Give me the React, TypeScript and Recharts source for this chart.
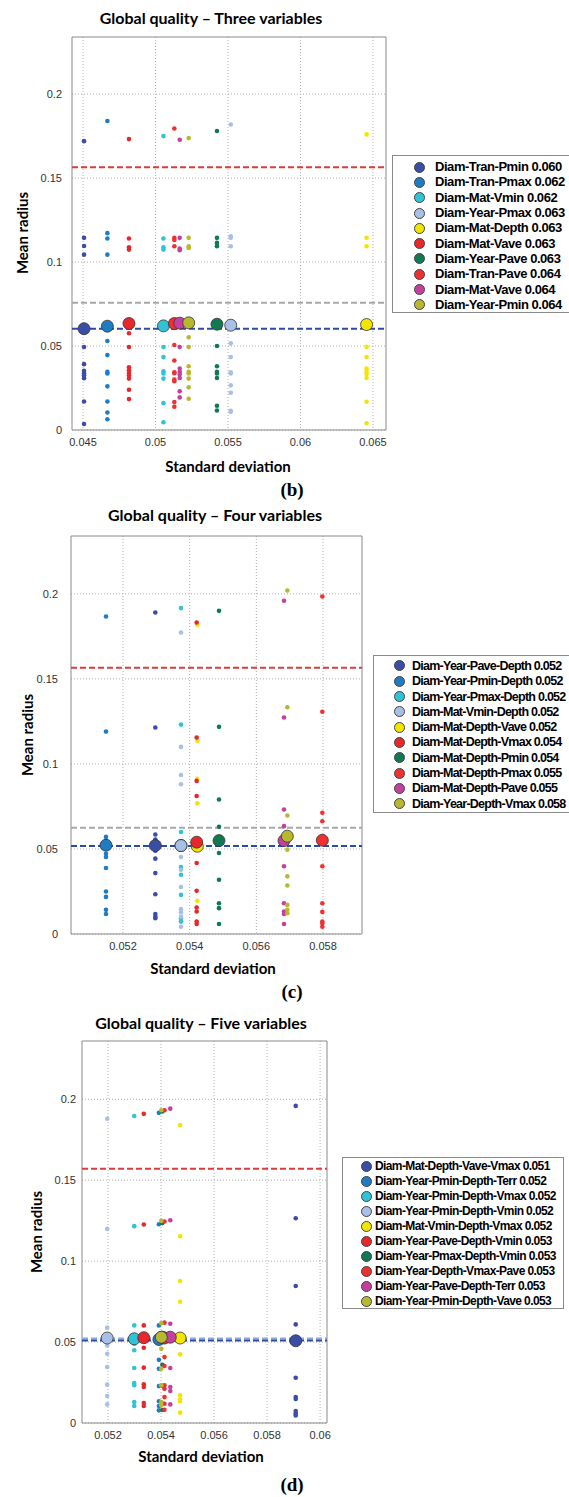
import React from "react";
import { ScatterChart, Scatter, XAxis, YAxis, CartesianGrid, ReferenceLine, ReferenceArea } from "recharts";

const palette = ["#3b4ea6", "#1f7cc4", "#2ec4d6", "#a8bfe6", "#f2e600", "#e8262b", "#0f7a52", "#ef3030", "#c4409f", "#b8b830"];
const yTicks = [0, 0.05, 0.1, 0.15, 0.2];

// Panel (b)
const bNames = ["Diam-Tran-Pmin 0.060", "Diam-Tran-Pmax 0.062", "Diam-Mat-Vmin 0.062", "Diam-Year-Pmax 0.063", "Diam-Mat-Depth 0.063", "Diam-Mat-Vave 0.063", "Diam-Year-Pave 0.063", "Diam-Tran-Pave 0.064", "Diam-Mat-Vave 0.064", "Diam-Year-Pmin 0.064"];
const bX = [0.04507, 0.04668, 0.05055, 0.05519, 0.06456, 0.04817, 0.05424, 0.0513, 0.05167, 0.05229];
const bMeans = [0.0603, 0.0618, 0.062, 0.0624, 0.0628, 0.0634, 0.063, 0.0634, 0.0636, 0.0638];
const bPoints = [
  [0.172, 0.1144, 0.1096, 0.1044, 0.0494, 0.0392, 0.0352, 0.0338, 0.0324, 0.0308, 0.017, 0.0036],
  [0.184, 0.1172, 0.114, 0.1044, 0.053, 0.0446, 0.0346, 0.0336, 0.026, 0.017, 0.0104, 0.0064],
  [0.175, 0.114, 0.1088, 0.1074, 0.0494, 0.0434, 0.035, 0.0336, 0.0306, 0.016, 0.0046],
  [0.1819, 0.1154, 0.1144, 0.1094, 0.0516, 0.0434, 0.0344, 0.0336, 0.0266, 0.0222, 0.0114, 0.0108],
  [0.176, 0.1144, 0.1094, 0.0494, 0.0434, 0.0366, 0.0348, 0.0334, 0.031, 0.0168, 0.004],
  [0.1732, 0.114, 0.1088, 0.1074, 0.0576, 0.0494, 0.0374, 0.0356, 0.034, 0.0324, 0.0306, 0.024, 0.0184],
  [0.178, 0.1144, 0.1114, 0.1094, 0.05, 0.038, 0.0346, 0.0336, 0.031, 0.0144, 0.0116],
  [0.1795, 0.1144, 0.1132, 0.1094, 0.0506, 0.0414, 0.0344, 0.0338, 0.03, 0.029, 0.0166, 0.0138],
  [0.1728, 0.1144, 0.108, 0.107, 0.0494, 0.0366, 0.0346, 0.033, 0.031, 0.023, 0.0194],
  [0.1738, 0.1144, 0.1094, 0.1084, 0.0552, 0.0494, 0.038, 0.0346, 0.0336, 0.0306, 0.0254, 0.0186],
];
const bXTicks = [0.045, 0.05, 0.055, 0.06, 0.065];
const bRefs = [0.1565, 0.0758, 0.0603];

// Panel (c)
const cNames = ["Diam-Year-Pave-Depth 0.052", "Diam-Year-Pmin-Depth 0.052", "Diam-Year-Pmax-Depth 0.052", "Diam-Mat-Vmin-Depth 0.052", "Diam-Mat-Depth-Vave 0.052", "Diam-Mat-Depth-Vmax 0.054", "Diam-Mat-Depth-Pmin 0.054", "Diam-Mat-Depth-Pmax 0.055", "Diam-Mat-Depth-Pave 0.055", "Diam-Year-Depth-Vmax 0.058"];
const cX = [0.05297, 0.05149, 0.05374, 0.05374, 0.05423, 0.05421, 0.05488, 0.05798, 0.05683, 0.05693];
const cMeans = [0.052, 0.0522, 0.052, 0.052, 0.0516, 0.054, 0.0549, 0.0551, 0.0549, 0.0575];
const cPoints = [
  [0.189, 0.1214, 0.0585, 0.0555, 0.049, 0.0443, 0.0358, 0.0234, 0.0118, 0.0102, 0.0093],
  [0.1867, 0.119, 0.0571, 0.0545, 0.0472, 0.0453, 0.0388, 0.025, 0.0218, 0.0142, 0.0118],
  [0.1916, 0.1231, 0.06, 0.0506, 0.0394, 0.0348, 0.023, 0.0093, 0.0073],
  [0.1773, 0.11, 0.0935, 0.088, 0.0453, 0.0378, 0.0276, 0.0146, 0.0128, 0.0102, 0.0043],
  [0.1818, 0.1136, 0.0913, 0.0768, 0.0505, 0.0195],
  [0.1831, 0.1155, 0.09, 0.0811, 0.0496, 0.0417, 0.0254, 0.0156, 0.0132, 0.0073, 0.0059],
  [0.19, 0.1218, 0.0791, 0.063, 0.0476, 0.0319, 0.0181, 0.0152, 0.0059],
  [0.1984, 0.1307, 0.0713, 0.0663, 0.0398, 0.0181, 0.013, 0.0073, 0.0063, 0.0043],
  [0.1959, 0.1273, 0.0732, 0.0634, 0.0398, 0.0181, 0.0132, 0.0118, 0.0059],
  [0.202, 0.1333, 0.0697, 0.0496, 0.0339, 0.0285, 0.0171, 0.0142, 0.0122],
];
const cXTicks = [0.052, 0.054, 0.056, 0.058];
const cRefs = [0.1565, 0.0624, 0.0518];

// Panel (d)
const dNames = ["Diam-Mat-Depth-Vave-Vmax 0.051", "Diam-Year-Pmin-Depth-Terr 0.052", "Diam-Year-Pmin-Depth-Vmax 0.052", "Diam-Year-Pmin-Depth-Vmin 0.052", "Diam-Mat-Vmin-Depth-Vmax 0.052", "Diam-Year-Pave-Depth-Vmin 0.053", "Diam-Year-Pmax-Depth-Vmin 0.053", "Diam-Year-Depth-Vmax-Pave 0.053", "Diam-Year-Pave-Depth-Terr 0.053", "Diam-Year-Pmin-Depth-Vave 0.053"];
const dX = [0.05908, 0.05392, 0.05299, 0.05197, 0.05472, 0.05335, 0.05405, 0.05413, 0.05435, 0.05401];
const dMeans = [0.0508, 0.0516, 0.052, 0.0525, 0.0525, 0.0527, 0.053, 0.0525, 0.053, 0.053];
const dPoints = [
  [0.1959, 0.1265, 0.0846, 0.0609, 0.028, 0.016, 0.0148, 0.0074, 0.0058, 0.0047],
  [0.1916, 0.1228, 0.0603, 0.039, 0.0335, 0.0228, 0.0134, 0.0105, 0.0078],
  [0.1897, 0.1216, 0.0603, 0.049, 0.0449, 0.034, 0.0247, 0.0233, 0.013, 0.0105],
  [0.188, 0.1199, 0.0589, 0.0479, 0.0428, 0.0346, 0.0237, 0.0167, 0.0115],
  [0.184, 0.1154, 0.0877, 0.0749, 0.0424, 0.0171, 0.0146, 0.0134, 0.0064],
  [0.191, 0.1226, 0.0603, 0.0465, 0.0342, 0.0239, 0.0222, 0.0123, 0.0105],
  [0.1925, 0.1235, 0.036, 0.023, 0.012, 0.008],
  [0.1932, 0.1245, 0.062, 0.05, 0.0407, 0.0352, 0.0233, 0.0212, 0.016, 0.0119, 0.0082],
  [0.1942, 0.1253, 0.0613, 0.034, 0.0222, 0.0198, 0.0115],
  [0.1932, 0.1249, 0.0617, 0.0459, 0.0335, 0.0233, 0.013, 0.0109],
];
const dXTicks = [0.052, 0.054, 0.056, 0.058, 0.06];
const dRefs = [0.157, 0.0522, 0.051];

const refColors = ["#e03a3a", "#a8a8a8", "#2c4aa8"];
const dRefColors = ["#e03a3a", "#8fa6d8", "#2c4aa8"];

const titleFont = "Lato, 'Open Sans', sans-serif";
const tickFont = "'Liberation Sans', Arial, sans-serif";
const legendFont = "'Liberation Sans', Arial, sans-serif";

type PanelProps = {
  top: number;
  width: number;
  height: number;
  margin: { top: number; right: number; bottom: number; left: number };
  xDomain: [number, number];
  yDomain: [number, number];
  xTicks: number[];
  xPoints: number[];
  means: number[];
  points: number[][];
  refs: number[];
  refCols: string[];
  yTickMargin: number;
};

function Panel(p: PanelProps) {
  const small = (color: string) => (props: any) => (
    <circle cx={props.cx} cy={props.cy} r={2.3} fill={color} />
  );
  const big = (color: string) => (props: any) => (
    <circle cx={props.cx} cy={props.cy} r={6} fill={color} stroke="#333" strokeWidth={0.8} />
  );
  return (
    <div style={{ position: "absolute", left: 0, top: p.top }}>
      <ScatterChart width={p.width} height={p.height} margin={p.margin}>
        <CartesianGrid stroke="#b0b0b0" strokeDasharray="1 2" horizontalValues={yTicks} verticalValues={p.xTicks} />
        <XAxis
          type="number"
          dataKey="x"
          domain={p.xDomain}
          ticks={p.xTicks}
          allowDataOverflow
          height={20}
          axisLine={false}
          tickLine={false}
          tick={{ fontSize: 11, fill: "#333", fontFamily: tickFont }}
          tickFormatter={(v: number) => String(+v.toFixed(4))}
        />
        <YAxis
          type="number"
          dataKey="y"
          domain={p.yDomain}
          ticks={yTicks}
          allowDataOverflow
          width={40}
          axisLine={false}
          tickLine={false}
          tickMargin={p.yTickMargin}
          tick={{ fontSize: 11, fill: "#333", fontFamily: tickFont }}
          tickFormatter={(v: number) => String(+v.toFixed(3))}
        />
        <ReferenceArea x1={p.xDomain[0]} x2={p.xDomain[1]} y1={p.yDomain[0]} y2={p.yDomain[1]} fill="none" stroke="#8a8a8a" strokeWidth={1} fillOpacity={0} />
        {p.points.map((pts, i) => (
          <Scatter
            key={"s" + i}
            data={pts.map((y) => ({ x: p.xPoints[i], y }))}
            fill={palette[i]}
            shape={small(palette[i])}
            isAnimationActive={false}
          />
        ))}
        {p.refs.map((r, i) => (
          <ReferenceLine key={"r" + i} y={r} stroke={p.refCols[i]} strokeWidth={2} strokeDasharray="6 3" />
        ))}
        {p.means.map((m, i) => (
          <Scatter
            key={"m" + i}
            data={[{ x: p.xPoints[i], y: m }]}
            fill={palette[i]}
            shape={big(palette[i])}
            isAnimationActive={false}
          />
        ))}
      </ScatterChart>
    </div>
  );
}

function Legend({ names, left, top, width, height, padTop, markerLeft, gap, fontSize, spacing, rowH }: any) {
  return (
    <div
      style={{
        position: "absolute",
        left,
        top,
        width,
        height,
        border: "1px solid #8a8a8a",
        background: "#fff",
        boxSizing: "border-box",
        paddingTop: padTop,
        overflow: "hidden",
      }}
    >
      {names.map((n: string, i: number) => (
        <div key={i} style={{ display: "flex", alignItems: "center", height: rowH, paddingLeft: markerLeft }}>
          <div
            style={{
              width: 9,
              height: 9,
              borderRadius: "50%",
              background: palette[i],
              border: "0.8px solid #444",
              flex: "none",
            }}
          />
          <span
            style={{
              marginLeft: gap,
              fontFamily: legendFont,
              fontWeight: "bold",
              fontSize,
              letterSpacing: spacing,
              color: "#000",
              whiteSpace: "nowrap",
              lineHeight: "14px",
            }}
          >
            {n}
          </span>
        </div>
      ))}
    </div>
  );
}

function Text({ x, y, children, size, bold, family, rotate }: any) {
  return (
    <div
      style={{
        position: "absolute",
        left: x,
        top: y,
        transform: `translate(-50%, -50%)${rotate ? " rotate(-90deg)" : ""}`,
        fontFamily: family,
        fontWeight: bold ? "bold" : "normal",
        fontSize: size,
        whiteSpace: "nowrap",
        color: "#000",
      }}
    >
      {children}
    </div>
  );
}

export default function App() {
  return (
    <div style={{ position: "absolute", left: 0, top: 0, width: 569, height: 1497, background: "#fff", overflow: "hidden" }}>
      {/* Panel b */}
      <Panel
        top={0}
        width={400}
        height={460}
        margin={{ top: 37, right: 14, bottom: 10, left: 32 }}
        xDomain={[0.04424, 0.0659]}
        yDomain={[0, 0.234]}
        xTicks={bXTicks}
        xPoints={bX}
        means={bMeans}
        points={bPoints}
        refs={bRefs}
        refCols={refColors}
        yTickMargin={4}
      />
      <Text x={211} y={17} size={16} bold family={titleFont}>Global quality – Three variables</Text>
      <Text x={22} y={233} size={15} bold family={titleFont} rotate>Mean radius</Text>
      <Text x={228} y={466} size={15} bold family={titleFont}>Standard deviation</Text>
      <Text x={292} y={490} size={19} bold family="'Liberation Serif', serif">(b)</Text>
      <Legend names={bNames} left={392} top={155} width={178} height={158} padTop={3.5} markerLeft={21} gap={10} fontSize={13} spacing={-0.45} rowH={15.3} />

      {/* Panel c */}
      <Panel
        top={500}
        width={400}
        height={460}
        margin={{ top: 36, right: 38, bottom: 6, left: 31 }}
        xDomain={[0.05044, 0.05917]}
        yDomain={[0, 0.234]}
        xTicks={cXTicks}
        xPoints={cX}
        means={cMeans}
        points={cPoints}
        refs={cRefs}
        refCols={refColors}
        yTickMargin={7}
      />
      <Text x={215} y={514} size={16} bold family={titleFont}>Global quality – Four variables</Text>
      <Text x={27} y={735} size={15} bold family={titleFont} rotate>Mean radius</Text>
      <Text x={213} y={968} size={15} bold family={titleFont}>Standard deviation</Text>
      <Text x={292} y={992} size={19} bold family="'Liberation Serif', serif">(c)</Text>
      <Legend names={cNames} left={373} top={655} width={197} height={158} padTop={2.3} markerLeft={20} gap={7} fontSize={12.5} spacing={-0.75} rowH={15.3} />

      {/* Panel d */}
      <Panel
        top={1000}
        width={400}
        height={460}
        margin={{ top: 41, right: 73, bottom: 17, left: 42 }}
        xDomain={[0.05102, 0.06026]}
        yDomain={[0, 0.236]}
        xTicks={dXTicks}
        xPoints={dX}
        means={dMeans}
        points={dPoints}
        refs={dRefs}
        refCols={dRefColors}
        yTickMargin={0}
      />
      <Text x={201} y={1022} size={16} bold family={titleFont}>Global quality – Five variables</Text>
      <Text x={36} y={1232} size={15} bold family={titleFont} rotate>Mean radius</Text>
      <Text x={201} y={1456} size={15} bold family={titleFont}>Standard deviation</Text>
      <Text x={292} y={1485} size={19} bold family="'Liberation Serif', serif">(d)</Text>
      <Legend names={dNames} left={342} top={1157} width={222} height={152} padTop={0.5} markerLeft={18} gap={3} fontSize={12} spacing={-0.6} rowH={15} />
    </div>
  );
}
